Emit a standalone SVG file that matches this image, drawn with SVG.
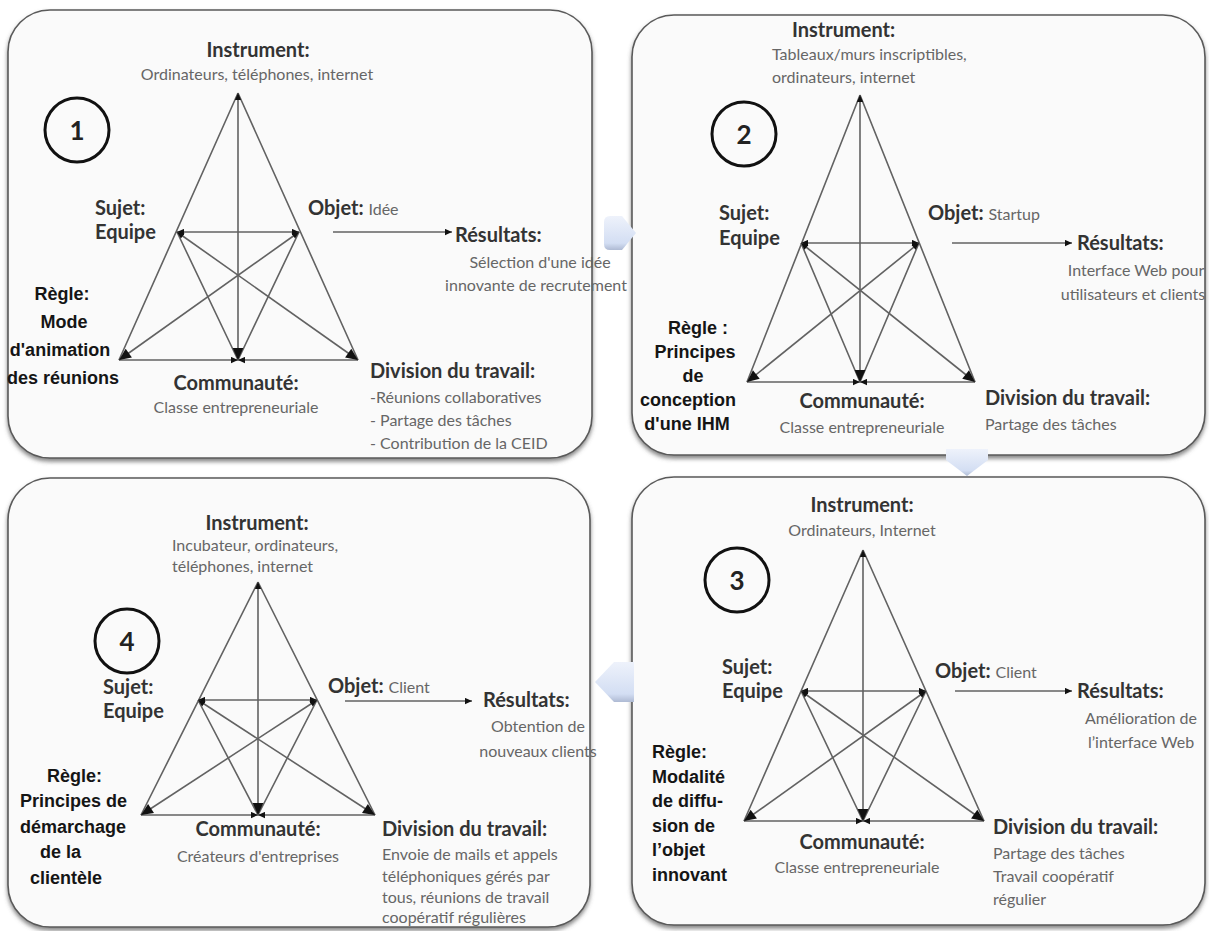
<svg xmlns="http://www.w3.org/2000/svg" width="1209" height="931" viewBox="0 0 1209 931">
<defs>
<style>
.box{fill:#fafafa;stroke:#5a5a5a;stroke-width:1.6}
.ln{stroke:#626262;stroke-width:1.6;fill:none}
.h{font-family:Lato,"Open Sans",sans-serif;font-weight:700;font-size:20px;fill:#333}
.s{font-family:Lato,"Open Sans",sans-serif;font-weight:400;font-size:16px;fill:#666}
.r{font-family:"Liberation Sans",Arial,sans-serif;font-weight:700;font-size:18px;fill:#151515}
.num{font-family:Lato,"Open Sans",sans-serif;font-weight:700;font-size:26px;fill:#222}
.circ{fill:none;stroke:#111;stroke-width:3}
.m{text-anchor:middle}
.blk{fill:url(#bg)}
</style>
<filter id="sh" x="-5%" y="-5%" width="110%" height="115%">
<feDropShadow dx="0" dy="3" stdDeviation="2" flood-color="#555" flood-opacity="0.7"/>
</filter>
<linearGradient id="bg" x1="0" y1="0" x2="0" y2="1">
<stop offset="0" stop-color="#eef2fb"/>
<stop offset="0.8" stop-color="#d3def3"/>
<stop offset="1" stop-color="#aebad3"/>
</linearGradient>
<marker id="big" viewBox="0 0 10 10" refX="10" refY="5" markerWidth="14" markerHeight="12" markerUnits="userSpaceOnUse" orient="auto-start-reverse">
<path d="M0,0.5 L10,5 L0,9.5 z" fill="#111"/>
</marker>
<marker id="sm" viewBox="0 0 10 10" refX="10" refY="5" markerWidth="8" markerHeight="7" markerUnits="userSpaceOnUse" orient="auto-start-reverse">
<path d="M0,0.5 L10,5 L0,9.5 z" fill="#111"/>
</marker>
</defs>

<!-- Panel 1 -->
<g id="panel1">
<rect class="box" x="8" y="10" width="584" height="448" rx="42" filter="url(#sh)"/>
<text class="h m" x="258" y="57" font-size="21">Instrument:</text>
<text class="s m" x="257" y="80" font-size="18">Ordinateurs, téléphones, internet</text>
<circle class="circ" cx="77" cy="130" r="32"/>
<text class="num m" x="77" y="140">1</text>
<path class="ln" d="M238,93 L119,360 M238,93 L358,360 M177,232 L238,360 M299,232 L238,360"/>
<path class="ln" d="M238,93 L238,360" marker-start="url(#sm)" marker-end="url(#big)"/>
<path class="ln" d="M177,232 L299,232" marker-start="url(#sm)" marker-end="url(#sm)"/>
<path class="ln" d="M119,360 L238,360" marker-end="url(#sm)"/>
<path class="ln" d="M358,360 L238,360" marker-end="url(#sm)"/>
<path class="ln" d="M177,232 L358,360" marker-start="url(#sm)" marker-end="url(#big)"/>
<path class="ln" d="M299,232 L119,360" marker-start="url(#sm)" marker-end="url(#big)"/>
<text class="h" x="95" y="215" font-size="21">Sujet:</text>
<text class="h" x="95" y="239" font-size="21">Equipe</text>
<text class="h" x="308" y="215">Objet: <tspan class="s" font-size="15">Idée</tspan></text>
<path class="ln" d="M333,232 L452,232" marker-end="url(#sm)"/>
<text class="h" x="455" y="242" font-size="22">Résultats:</text>
<text class="s m" x="540" y="268">Sélection d'une idée</text>
<text class="s m" x="536" y="291">innovante de recrutement</text>
<text class="r m" x="62" y="300">Règle:</text>
<text class="r m" x="64" y="328">Mode</text>
<text class="r m" x="60" y="356">d'animation</text>
<text class="r m" x="63" y="384">des réunions</text>
<text class="h m" x="236" y="390">Communauté:</text>
<text class="s m" x="236" y="413" font-size="18">Classe entrepreneuriale</text>
<text class="h" x="370" y="378" font-size="21">Division du travail:</text>
<text class="s" x="370" y="403">-Réunions collaboratives</text>
<text class="s" x="370" y="426">- Partage des tâches</text>
<text class="s" x="370" y="449">- Contribution de la CEID</text>
</g>

<!-- Panel 2 -->
<g id="panel2">
<rect class="box" x="632" y="15" width="573" height="440" rx="42" filter="url(#sh)"/>
<text class="h" x="792" y="37" font-size="19">Instrument:</text>
<text class="s" x="772" y="60" font-size="17">Tableaux/murs inscriptibles,</text>
<text class="s" x="772" y="83">ordinateurs, internet</text>
<circle class="circ" cx="744" cy="134" r="32"/>
<text class="num m" x="744" y="144">2</text>
<path class="ln" d="M860,95 L747,382 M860,95 L975,382 M801,243 L860,382 M919,243 L860,382"/>
<path class="ln" d="M860,95 L860,382" marker-start="url(#sm)" marker-end="url(#big)"/>
<path class="ln" d="M801,243 L919,243" marker-start="url(#sm)" marker-end="url(#sm)"/>
<path class="ln" d="M747,382 L860,382" marker-end="url(#sm)"/>
<path class="ln" d="M975,382 L860,382" marker-end="url(#sm)"/>
<path class="ln" d="M801,243 L975,382" marker-start="url(#sm)" marker-end="url(#big)"/>
<path class="ln" d="M919,243 L747,382" marker-start="url(#sm)" marker-end="url(#big)"/>
<text class="h" x="719" y="220">Sujet:</text>
<text class="h" x="719" y="245">Equipe</text>
<text class="h" x="928" y="220">Objet: <tspan class="s" font-size="15">Startup</tspan></text>
<path class="ln" d="M952,243 L1072,243" marker-end="url(#sm)"/>
<text class="h" x="1077" y="250">Résultats:</text>
<text class="s m" x="1136" y="276" font-size="14">Interface Web pour</text>
<text class="s m" x="1133" y="300" font-size="14">utilisateurs et clients</text>
<text class="r m" x="698" y="334">Règle :</text>
<text class="r m" x="695" y="358">Principes</text>
<text class="r m" x="693" y="382">de</text>
<text class="r m" x="688" y="406">conception</text>
<text class="r m" x="687" y="430">d'une IHM</text>
<text class="h m" x="862" y="408" font-size="19">Communauté:</text>
<text class="s m" x="862" y="433" font-size="17">Classe entrepreneuriale</text>
<text class="h" x="985" y="405">Division du travail:</text>
<text class="s" x="985" y="430" font-size="15.5">Partage des tâches</text>
</g>

<!-- Panel 3 -->
<g id="panel3">
<rect class="box" x="632" y="477" width="573" height="448" rx="42" filter="url(#sh)"/>
<text class="h m" x="862" y="512" font-size="19">Instrument:</text>
<text class="s m" x="862" y="536" font-size="15.5">Ordinateurs, Internet</text>
<circle class="circ" cx="737" cy="580" r="32"/>
<text class="num m" x="737" y="590">3</text>
<path class="ln" d="M863,550 L744,821 M863,550 L984,821 M801,691 L863,821 M926,691 L863,821"/>
<path class="ln" d="M863,550 L863,821" marker-start="url(#sm)" marker-end="url(#big)"/>
<path class="ln" d="M801,691 L926,691" marker-start="url(#sm)" marker-end="url(#sm)"/>
<path class="ln" d="M744,821 L863,821" marker-end="url(#sm)"/>
<path class="ln" d="M984,821 L863,821" marker-end="url(#sm)"/>
<path class="ln" d="M801,691 L984,821" marker-start="url(#sm)" marker-end="url(#big)"/>
<path class="ln" d="M926,691 L744,821" marker-start="url(#sm)" marker-end="url(#big)"/>
<text class="h" x="722" y="674">Sujet:</text>
<text class="h" x="722" y="698">Equipe</text>
<text class="h" x="935" y="678">Objet: <tspan class="s" font-size="15">Client</tspan></text>
<path class="ln" d="M955,691 L1072,691" marker-end="url(#sm)"/>
<text class="h" x="1077" y="698">Résultats:</text>
<text class="s m" x="1141" y="724">Amélioration de</text>
<text class="s m" x="1141" y="748">l’interface Web</text>
<text class="r" x="652" y="758" font-size="19.5">Règle:</text>
<text class="r" x="652" y="783" font-size="19.5">Modalité</text>
<text class="r" x="652" y="807" font-size="19.5">de diffu-</text>
<text class="r" x="652" y="832" font-size="19.5">sion de</text>
<text class="r" x="652" y="856" font-size="19.5">l’objet</text>
<text class="r" x="652" y="881" font-size="19.5">innovant</text>
<text class="h m" x="862" y="849" font-size="19">Communauté:</text>
<text class="s m" x="857" y="873" font-size="17">Classe entrepreneuriale</text>
<text class="h" x="993" y="834">Division du travail:</text>
<text class="s" x="993" y="859">Partage des tâches</text>
<text class="s" x="993" y="882">Travail coopératif</text>
<text class="s" x="993" y="905">régulier</text>
</g>

<!-- Panel 4 -->
<g id="panel4">
<rect class="box" x="8" y="478" width="582" height="449" rx="42" filter="url(#sh)"/>
<text class="h m" x="257" y="530">Instrument:</text>
<text class="s" x="172" y="551">Incubateur, ordinateurs,</text>
<text class="s" x="172" y="572">téléphones, internet</text>
<circle class="circ" cx="127" cy="641" r="32"/>
<text class="num m" x="127" y="651">4</text>
<path class="ln" d="M258,582 L141,815 M258,582 L375,815 M198,700 L258,815 M317,700 L258,815"/>
<path class="ln" d="M258,582 L258,815" marker-start="url(#sm)" marker-end="url(#big)"/>
<path class="ln" d="M198,700 L317,700" marker-start="url(#sm)" marker-end="url(#sm)"/>
<path class="ln" d="M141,815 L258,815" marker-end="url(#sm)"/>
<path class="ln" d="M375,815 L258,815" marker-end="url(#sm)"/>
<path class="ln" d="M198,700 L375,815" marker-start="url(#sm)" marker-end="url(#big)"/>
<path class="ln" d="M317,700 L141,815" marker-start="url(#sm)" marker-end="url(#big)"/>
<text class="h" x="103" y="694" font-size="21">Sujet:</text>
<text class="h" x="103" y="718" font-size="21">Equipe</text>
<text class="h" x="328" y="693">Objet: <tspan class="s" font-size="15">Client</tspan></text>
<path class="ln" d="M345,701 L472,701" marker-end="url(#sm)"/>
<text class="h" x="483" y="707">Résultats:</text>
<text class="s m" x="538" y="732" font-size="18">Obtention de</text>
<text class="s m" x="538" y="757" font-size="18">nouveaux clients</text>
<text class="r" x="47" y="782" font-size="20">Règle:</text>
<text class="r" x="20" y="807" font-size="20">Principes de</text>
<text class="r" x="20" y="833" font-size="20">démarchage</text>
<text class="r" x="40" y="858" font-size="20">de la</text>
<text class="r" x="30" y="884" font-size="20">clientèle</text>
<text class="h m" x="258" y="836">Communauté:</text>
<text class="s m" x="258" y="862">Créateurs d'entreprises</text>
<text class="h" x="382" y="836">Division du travail:</text>
<text class="s" x="382" y="860">Envoie de mails et appels</text>
<text class="s" x="382" y="882">téléphoniques gérés par</text>
<text class="s" x="382" y="903">tous, réunions de travail</text>
<text class="s" x="382" y="923">coopératif régulières</text>
</g>

<!-- Connectors -->
<g id="connectors">
<path class="blk" d="M604,222 Q604,216 610,216 L622,216 L636,233 L622,250 L610,250 Q604,250 604,244 Z"/>
<path class="blk" d="M946,449 L988,449 L988,460 L967,476 L946,460 Z"/>
<path class="blk" d="M634,662 L614,662 L595,682 L614,702 L634,702 Z"/>
</g>
</svg>
